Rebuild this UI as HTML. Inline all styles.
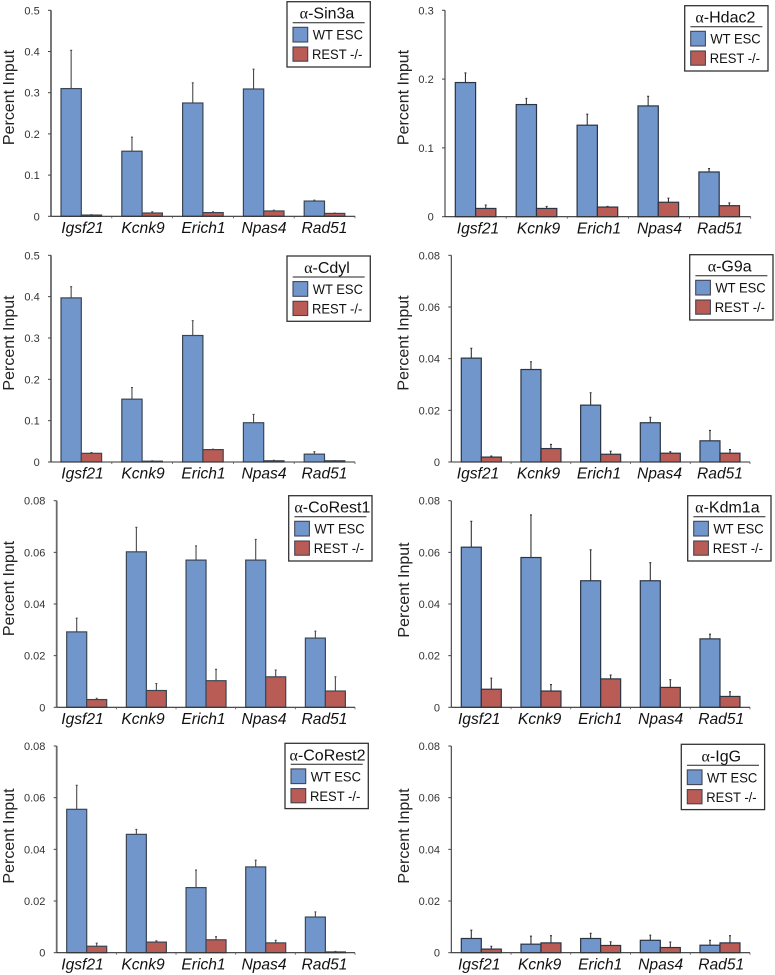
<!DOCTYPE html>
<html>
<head>
<meta charset="utf-8">
<title>ChIP percent input bar charts</title>
<style>
html,body{margin:0;padding:0;background:#fff;}
body{width:775px;height:975px;overflow:hidden;}
svg{display:block;filter:blur(0.35px);}
text{font-family:"Liberation Sans",sans-serif;}
</style>
</head>
<body>
<svg id="figure" xmlns="http://www.w3.org/2000/svg" width="775" height="975" viewBox="0 0 775 975"></svg>
<script>
const categories = ["Igsf21", "Kcnk9", "Erich1", "Npas4", "Rad51"];
const seriesNames = ["WT ESC", "REST -/-"];
const yAxisTitle = "Percent Input";

const ticksHigh = ["0", "0.1", "0.2", "0.3", "0.4", "0.5"];
const ticksHdac = ["0", "0.1", "0.2", "0.3"];
const ticksLow = ["0", "0.02", "0.04", "0.06", "0.08"];

const sin3aWt = [0.31, 0.158, 0.275, 0.309, 0.037];
const sin3aWtTop = [0.403, 0.192, 0.324, 0.357, 0.039];
const sin3aRest = [0.003, 0.008, 0.009, 0.013, 0.007];
const sin3aRestTop = [0.004, 0.011, 0.011, 0.015, 0.008];

const hdac2Wt = [0.195, 0.163, 0.133, 0.161, 0.065];
const hdac2WtTop = [0.209, 0.172, 0.149, 0.175, 0.07];
const hdac2Rest = [0.012, 0.012, 0.014, 0.021, 0.016];
const hdac2RestTop = [0.017, 0.015, 0.015, 0.027, 0.02];

const cdylWt = [0.397, 0.152, 0.306, 0.095, 0.019];
const cdylWtTop = [0.424, 0.18, 0.342, 0.115, 0.025];
const cdylRest = [0.021, 0.002, 0.03, 0.003, 0.003];
const cdylRestTop = [0.023, 0.003, 0.031, 0.004, 0.003];

const g9aWt = [0.0402, 0.0358, 0.022, 0.0152, 0.0082];
const g9aWtTop = [0.044, 0.0388, 0.0268, 0.0173, 0.0122];
const g9aRest = [0.0019, 0.0052, 0.003, 0.0034, 0.0034];
const g9aRestTop = [0.0023, 0.0068, 0.0042, 0.004, 0.0048];

const coRest1Wt = [0.0292, 0.0602, 0.057, 0.057, 0.0268];
const coRest1WtTop = [0.0345, 0.0697, 0.0625, 0.065, 0.0295];
const coRest1Rest = [0.003, 0.0065, 0.0103, 0.0118, 0.0063];
const coRest1RestTop = [0.0035, 0.0092, 0.0147, 0.0144, 0.0118];

const kdm1aWt = [0.062, 0.058, 0.049, 0.049, 0.0265];
const kdm1aWtTop = [0.072, 0.0745, 0.061, 0.056, 0.0283];
const kdm1aRest = [0.007, 0.0063, 0.011, 0.0077, 0.0042];
const kdm1aRestTop = [0.0113, 0.0088, 0.0125, 0.0107, 0.006];

const coRest2Wt = [0.0555, 0.0458, 0.0252, 0.0332, 0.0138];
const coRest2WtTop = [0.0648, 0.0477, 0.032, 0.0358, 0.0158];
const coRest2Rest = [0.0025, 0.0041, 0.005, 0.0038, 0.0003];
const coRest2RestTop = [0.0037, 0.0046, 0.0062, 0.0048, 0.0005];

const iggWt = [0.0055, 0.0033, 0.0055, 0.0048, 0.0029];
const iggWtTop = [0.0087, 0.0064, 0.0075, 0.0068, 0.0048];
const iggRest = [0.0014, 0.0038, 0.0028, 0.002, 0.0038];
const iggRestTop = [0.0025, 0.0066, 0.0042, 0.0041, 0.0066];

const panels = [
  {id:"sin3a", title:"Sin3a", wt:sin3aWt, wtTop:sin3aWtTop, rest:sin3aRest, restTop:sin3aRestTop, ticks:ticksHigh, heavy:true,
   axisX:51, top:10.3, base:216.3, right:355, firstBar:61, period:60.8, barW:20.3, labelX:82.5, titleX:8.5, titleY:97.5, legX:287, legY:1.7, legTitleDx:40},
  {id:"hdac2", title:"Hdac2", wt:hdac2Wt, wtTop:hdac2WtTop, rest:hdac2Rest, restTop:hdac2RestTop, ticks:ticksHdac, heavy:false,
   axisX:445, top:10.3, base:216.7, right:750.7, firstBar:455.3, period:60.9, barW:20.3, labelX:478, titleX:403, titleY:97.5, legX:684.7, legY:5.7, legTitleDx:40.7},
  {id:"cdyl", title:"Cdyl", wt:cdylWt, wtTop:cdylWtTop, rest:cdylRest, restTop:cdylRestTop, ticks:ticksHigh, heavy:true,
   axisX:51, top:255.3, base:462, right:355, firstBar:61, period:60.8, barW:20.3, labelX:82.5, titleX:8.5, titleY:343, legX:287, legY:256, legTitleDx:40},
  {id:"g9a", title:"G9a", wt:g9aWt, wtTop:g9aWtTop, rest:g9aRest, restTop:g9aRestTop, ticks:ticksLow, heavy:false,
   axisX:451.3, top:255.3, base:462, right:750, firstBar:461.3, period:59.67, barW:20, labelX:478, titleX:403, titleY:343, legX:689.7, legY:254.7, legTitleDx:40},
  {id:"corest1", title:"CoRest1", wt:coRest1Wt, wtTop:coRest1WtTop, rest:coRest1Rest, restTop:coRest1RestTop, ticks:ticksLow, heavy:true,
   axisX:56.7, top:500.7, base:707.3, right:355, firstBar:66.7, period:59.67, barW:20, labelX:82.5, titleX:8.5, titleY:588.5, legX:288.7, legY:495.7, legTitleDx:43.7},
  {id:"kdm1a", title:"Kdm1a", wt:kdm1aWt, wtTop:kdm1aWtTop, rest:kdm1aRest, restTop:kdm1aRestTop, ticks:ticksLow, heavy:false,
   axisX:451.3, top:500.7, base:707.3, right:750, firstBar:461.3, period:59.67, barW:20, labelX:479.2, titleX:403.5, titleY:590, legX:687.7, legY:495.7, legTitleDx:39.7},
  {id:"corest2", title:"CoRest2", wt:coRest2Wt, wtTop:coRest2WtTop, rest:coRest2Rest, restTop:coRest2RestTop, ticks:ticksLow, heavy:true,
   axisX:56.7, top:746, base:952.7, right:355, firstBar:66.7, period:59.67, barW:20, labelX:82.5, titleX:8.5, titleY:836, legX:285, legY:743.3, legTitleDx:42.5},
  {id:"igg", title:"IgG", wt:iggWt, wtTop:iggWtTop, rest:iggRest, restTop:iggRestTop, ticks:ticksLow, heavy:false,
   axisX:451.3, top:746, base:952.7, right:750, firstBar:461.3, period:59.67, barW:20, labelX:479.2, titleX:403.5, titleY:836, legX:681.3, legY:744.3, legTitleDx:40}
];

const NS = "http://www.w3.org/2000/svg";
const figure = document.getElementById("figure");
const BLUE = "#7196cb";
const RED = "#b85c55";
const LABEL_STEP = 60.5;

function make(tag, parent, attrs, txt) {
  const node = document.createElementNS(NS, tag);
  for (const k in attrs) node.setAttribute(k, attrs[k]);
  if (txt !== undefined) node.textContent = txt;
  parent.appendChild(node);
  return node;
}

panels.forEach(function (p) {
  const maxVal = parseFloat(p.ticks[p.ticks.length - 1]);
  const yScale = function (v) { return p.base - (v / maxVal) * (p.base - p.top); };
  const barX = function (i, s) { return p.firstBar + i * p.period + s * p.barW; };

  const g = make("g", figure, {});
  
  

  // y axis
  const yAxis = make("line", g, {x1:p.axisX, x2:p.axisX, y1:p.top, y2:p.base,
    stroke:p.heavy ? "#6a6a6a" : "#3a3a3a", "stroke-width":p.heavy ? 1.8 : 1.1});
  
  

  p.ticks.forEach(function (t) {
    const y = yScale(parseFloat(t));
    const tick = make("line", g, {x1:p.axisX - 3, x2:p.axisX, y1:y, y2:y, stroke:"#444", "stroke-width":1});
    
    
    const lbl = make("text", g, {x:p.axisX - 11.3, y:y + 4, "text-anchor":"end", "font-size":11, fill:"#333"}, t);
    
    
  });

  // y title
  const yTitle = make("text", g, {x:0, y:0, "text-anchor":"middle", "font-size":16, fill:"#222",
    transform:"translate(" + (p.titleX + 5.5) + "," + p.titleY + ") rotate(-90)"}, yAxisTitle);
  
  

  // bars and error bars
  [[p.wt, p.wtTop, BLUE, "wt"], [p.rest, p.restTop, RED, "rest"]].forEach(function (series, s) {
    series[0].forEach(function (v, i) {
      const cx = barX(i, s) + p.barW / 2;
      const yTop = yScale(series[1][i]);
      const yVal = yScale(v);
      const err = make("path", g, {d:"M" + cx + " " + yVal + "V" + yTop + "M" + (cx - 1) + " " + yTop + "H" + (cx + 1),
        fill:"none", stroke:p.heavy ? "#4a4a4a" : "#333", "stroke-width":1.1});
      
      
      const bar = make("rect", g, {x:barX(i, s), y:yVal, width:p.barW, height:p.base - yVal,
        fill:series[2], stroke:p.heavy ? "#3b4654" : "#2a3442", "stroke-width":1.2});
      
      
    });
  });

  // x axis
  const xAxis = make("line", g, {x1:p.axisX, x2:p.right, y1:p.base, y2:p.base, stroke:"#333", "stroke-width":1.1});
  
  

  categories.forEach(function (c, i) {
    const step = (p.right - p.axisX) / categories.length;
    const tick = make("line", g, {x1:p.axisX + step * (i + 1), x2:p.axisX + step * (i + 1), y1:p.base, y2:p.base + 2, stroke:"#555", "stroke-width":0.8});
    
    
    const lbl = make("text", g, {x:p.labelX + i * LABEL_STEP, y:p.base + 16.6, "text-anchor":"middle", "font-size":15.6, "font-style":"italic", fill:"#111"}, c);
    
    
  });

  // legend
  const leg = make("g", g, {transform:"translate(" + p.legX + "," + p.legY + ")"});
  
  
  const box = make("rect", leg, {x:0, y:0, width:83.3, height:65.3, fill:"#fff", stroke:"#333", "stroke-width":1.3});
  
  
  const title = make("text", leg, {x:p.legTitleDx, y:17, "text-anchor":"middle", "font-size":16, fill:"#111"});
  
  
  make("tspan", title, {"font-family":"'Liberation Serif',serif"}, "\u03B1");
  make("tspan", title, {}, "-" + p.title);
  const rule = make("line", leg, {x1:5.7, x2:77.7, y1:21, y2:21, stroke:"#222", "stroke-width":1});
  
  

  seriesNames.forEach(function (name, s) {
    const sw = make("rect", leg, {x:6, y:s === 0 ? 25.6 : 45.3, width:14.7, height:s === 0 ? 14.7 : 14.2,
      fill:s === 0 ? BLUE : RED, stroke:"#445", "stroke-width":1.1});
    
    
    const t = make("text", leg, {x:s === 0 ? 25.7 : 25, y:s === 0 ? 38 : 57.5, "font-size":14, fill:"#111",
      textLength:50.3, lengthAdjust:"spacingAndGlyphs"}, name);
    
    
  });
});
</script>
</body>
</html>
